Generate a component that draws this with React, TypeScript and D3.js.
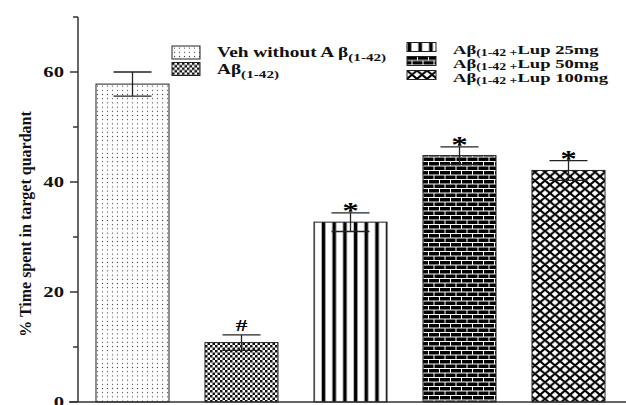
import React from "react";
import * as d3 from "d3";

// Group labels, mean % time in target quadrant, and SEM for each group
const groups = ["veh", "abeta", "lup25", "lup50", "lup100"];
const means = [57.8, 10.8, 32.7, 44.8, 42.1];
const sems = [2.2, 1.4, 1.7, 1.6, 1.8];
const marks = ["", "#", "*", "*", "*"];
const patternIds = ["dots", "checker", "stripes", "bricks", "crosshatch"];
const yTicks = [0, 20, 40, 60];
const yMinorTicks = [10, 30, 50, 70];

const W = 626;
const H = 405;
const FONT = "'Liberation Serif', 'Times New Roman', serif";
// horizontal text stretch used throughout the figure
const SX = 1.38;

const y = d3.scaleLinear().domain([0, 70]).range([402, 17]);
const x = d3
  .scaleBand<string>()
  .domain(groups)
  .range([78, 623])
  .paddingInner(0.33)
  .paddingOuter(0.165);

function LegendLabel({
  pre,
  sub,
  post,
  subSize,
  shift,
}: {
  pre: string;
  sub: string;
  post?: string;
  subSize: number;
  shift: number;
}) {
  return (
    <>
      <tspan>{pre}</tspan>
      <tspan fontSize={subSize} dy={shift}>
        {sub}
      </tspan>
      {post ? <tspan dy={-shift}>{post}</tspan> : null}
    </>
  );
}

function Stretched({
  x0,
  y0,
  children,
  ...rest
}: {
  x0: number;
  y0: number;
  children: React.ReactNode;
  [k: string]: any;
}) {
  return (
    <g transform={`translate(${x0},${y0}) scale(${SX},1)`}>
      <text x={0} y={0} {...rest}>
        {children}
      </text>
    </g>
  );
}

export default function App() {
  const bw = x.bandwidth();
  const legendLeft = [
    { pat: "dots", label: <LegendLabel pre="Veh without A β" sub="(1-42)" subSize={11} shift={4} /> },
    { pat: "checker", label: <LegendLabel pre="Aβ" sub="(1-42)" subSize={11} shift={4} /> },
  ];
  const legendRight = [
    {
      pat: "stripes",
      label: <LegendLabel pre="Aβ" sub="(1-42 +" post="Lup 25mg" subSize={10} shift={2.5} />,
    },
    {
      pat: "bricks",
      label: <LegendLabel pre="Aβ" sub="(1-42 +" post="Lup 50mg" subSize={10} shift={2.5} />,
    },
    {
      pat: "crosshatch",
      label: <LegendLabel pre="Aβ" sub="(1-42 +" post="Lup 100mg" subSize={10} shift={2.5} />,
    },
  ];

  return (
    <svg
      width={W}
      height={H}
      style={{ position: "fixed", left: 0, top: 0, background: "#fff" }}
      fontFamily={FONT}
    >
      <defs>
        <pattern id="dots" patternUnits="userSpaceOnUse" width={5} height={4.2}>
          <rect width={5} height={4.2} fill="#fff" />
          <circle cx={2.5} cy={2.1} r={0.65} fill="#444" />
        </pattern>
        <pattern id="checker" patternUnits="userSpaceOnUse" width={5} height={5}>
          <rect width={5} height={5} fill="#fff" />
          <rect x={0} y={0} width={2.5} height={2.5} fill="#111" />
          <rect x={2.5} y={2.5} width={2.5} height={2.5} fill="#111" />
        </pattern>
        <pattern id="stripes" patternUnits="userSpaceOnUse" width={10.7} height={10}>
          <rect width={10.7} height={10} fill="#fff" />
          <rect x={0.7} y={0} width={3.6} height={10} fill="#000" />
        </pattern>
        <pattern id="bricks" patternUnits="userSpaceOnUse" width={11} height={9}>
          <rect width={11} height={9} fill="#fff" />
          <rect x={0} y={0} width={10} height={3.5} fill="#000" />
          <rect x={-5.5} y={4.5} width={10} height={3.5} fill="#000" />
          <rect x={5.5} y={4.5} width={10} height={3.5} fill="#000" />
        </pattern>
        <pattern id="crosshatch" patternUnits="userSpaceOnUse" width={10} height={8.4}>
          <rect width={10} height={8.4} fill="#fff" />
          <path
            d="M-5,-4.2 L15,12.6 M-5,4.2 L5,12.6 M5,-4.2 L15,4.2 M15,-4.2 L-5,12.6 M5,-4.2 L-5,4.2 M15,4.2 L5,12.6"
            stroke="#000"
            strokeWidth={2}
          />
        </pattern>
      </defs>

      {/* Bars */}
      {groups.map((g, i) => (
        <rect
          key={g}
          x={x(g)}
          y={y(means[i])}
          width={bw}
          height={y(0) - y(means[i])}
          fill={`url(#${patternIds[i]})`}
          stroke="#222"
          strokeWidth={1}
        />
      ))}

      {/* Error bars */}
      {groups.map((g, i) => {
        const cx = (x(g) as number) + bw / 2;
        const top = y(means[i] + sems[i]);
        const bot = y(means[i] - sems[i]);
        return (
          <g key={g} stroke="#222" strokeWidth={1.3}>
            <line x1={cx} x2={cx} y1={top} y2={bot} />
            <line x1={cx - 19} x2={cx + 19} y1={top} y2={top} />
            <line x1={cx - 19} x2={cx + 19} y1={bot} y2={bot} />
          </g>
        );
      })}

      {/* Significance marks */}
      {groups.map((g, i) => {
        if (!marks[i]) return null;
        const cx = (x(g) as number) + bw / 2;
        const top = y(means[i] + sems[i]);
        const isStar = marks[i] === "*";
        return (
          <Stretched
            key={g}
            x0={cx}
            y0={isStar ? top + 5 : top - 4}
            textAnchor="middle"
            fontWeight="bold"
            fontSize={isStar ? 24 : 17}
            fill="#000"
          >
            {marks[i]}
          </Stretched>
        );
      })}

      {/* Y axis */}
      <g stroke="#333" strokeWidth={1.5}>
        <line x1={78} x2={78} y1={y(70)} y2={y(0)} />
        <line x1={69} x2={W} y1={y(0)} y2={y(0)} />
        {yTicks.map((t) => (
          <line key={t} x1={70} x2={78} y1={y(t)} y2={y(t)} />
        ))}
        {yMinorTicks.map((t) => (
          <line key={t} x1={73} x2={78} y1={y(t)} y2={y(t)} />
        ))}
      </g>
      {yTicks.map((t) => (
        <Stretched
          key={t}
          x0={64}
          y0={y(t)}
          dy="0.35em"
          textAnchor="end"
          fontWeight="bold"
          fontSize={15}
          fill="#111"
        >
          {t}
        </Stretched>
      ))}
      <text
        transform={`translate(25,224) rotate(-90)`}
        textAnchor="middle"
        dy="0.35em"
        fontWeight="bold"
        fontSize={16}
        fill="#111"
      >
        % Time spent in target quardant
      </text>

      {/* Legend, left column */}
      {legendLeft.map((d, i) => (
        <g key={d.pat} transform={`translate(172,${46 + i * 16.5})`}>
          <rect width={28} height={13} fill={`url(#${d.pat})`} stroke="#222" strokeWidth={1} />
          <Stretched x0={45} y0={11} fontWeight="bold" fontSize={14} fill="#111">
            {d.label}
          </Stretched>
        </g>
      ))}

      {/* Legend, right column */}
      {legendRight.map((d, i) => (
        <g key={d.pat} transform={`translate(407,${42.5 + i * 14})`}>
          <rect width={29} height={9} fill={`url(#${d.pat})`} stroke="#222" strokeWidth={1} />
          <Stretched x0={46} y0={11} fontWeight="bold" fontSize={13.5} fill="#111">
            {d.label}
          </Stretched>
        </g>
      ))}
    </svg>
  );
}
